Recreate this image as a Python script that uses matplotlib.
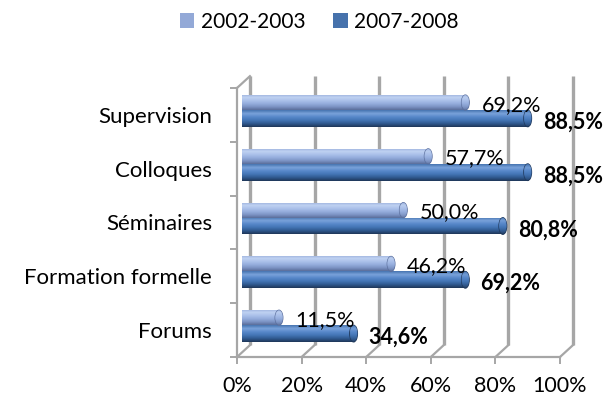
import matplotlib
matplotlib.use('Agg')
import matplotlib.pyplot as plt
import numpy as np
from matplotlib.patches import Ellipse, Patch
from matplotlib.colors import LinearSegmentedColormap

# ---------------- data ----------------
categories = ['Forums', 'Formation formelle', 'Séminaires', 'Colloques', 'Supervision']
series_names = ['2002-2003', '2007-2008']
values_2002 = [11.5, 46.2, 50.0, 57.7, 69.2]
values_2007 = [34.6, 69.2, 80.8, 88.5, 88.5]
x_ticks = [0, 20, 40, 60, 80, 100]
x_tick_labels = ['0%', '20%', '40%', '60%', '80%', '100%']

# ---------------- style ----------------
plt.rcParams['font.family'] = ['Lato', 'DejaVu Sans']
FS_CAT = 16
FS_NUM = 15.5
FS_LEG = 15
GRID = '#A6A6A6'
DEPTH_X, DEPTH_Y = 4.0, 0.22          # 3D depth offset (data units)
BAR_LEFT = 1.5
CAP_W = 2.4
light_cols = ['#98AEDB', '#C0D2F2', '#ABC1EA', '#95ADDD', '#7C93C4', '#5A6E9A']
dark_cols = ['#4674B0', '#7AA2DA', '#5888CA', '#4375B5', '#30598F', '#1E3658']
light_legend = '#93A9D7'
dark_legend = '#4672AC'
cmap_light = LinearSegmentedColormap.from_list('l', light_cols)
cmap_dark = LinearSegmentedColormap.from_list('d', dark_cols)

fig = plt.figure(figsize=(6.13, 4.04), dpi=100)
ax = fig.add_axes([237 / 613, 1 - 357 / 404, 323 / 613, 269 / 404])
ax.set_xlim(0, 100)
ax.set_ylim(-0.5, 4.5)

for s in ['top', 'right']:
    ax.spines[s].set_visible(False)
for s in ['left', 'bottom']:
    ax.spines[s].set_color(GRID)
    ax.spines[s].set_linewidth(1.6)

# back wall grid lines and floor diagonals
for t in x_ticks:
    ax.plot([t + DEPTH_X, t + DEPTH_X], [-0.5 + DEPTH_Y, 4.5 + DEPTH_Y],
            color=GRID, lw=2.4, clip_on=False, zorder=1, solid_capstyle='butt')
    ax.plot([t, t + DEPTH_X], [-0.5, -0.5 + DEPTH_Y],
            color=GRID, lw=1.6, clip_on=False, zorder=1)
ax.plot([0, DEPTH_X], [4.5, 4.5 + DEPTH_Y], color=GRID, lw=1.6, clip_on=False, zorder=1)

# ticks
ax.set_xticks(x_ticks, x_tick_labels)
ax.tick_params(axis='x', length=5, width=1.4, color=GRID, pad=9, labelsize=FS_NUM)
y = np.arange(len(categories))
ax.set_yticks(y, categories)
ax.tick_params(axis='y', which='major', length=0, pad=18, labelsize=FS_CAT)
ax.set_yticks(np.arange(-0.5, len(categories), 1), minor=True)
ax.tick_params(axis='y', which='minor', length=5, width=1.4, color=GRID)

grad = np.linspace(0, 1, 64).reshape(-1, 1)


def cylinders(yc, vals, h, cmap, edge):
    bars = ax.barh(yc, vals, height=h, left=BAR_LEFT, color=cmap(0.5),
                   edgecolor='none', zorder=3)
    for b, v, yy in zip(bars, vals, yc):
        bb = b.get_bbox()
        im = ax.imshow(grad, extent=(bb.x0, bb.x1, bb.y0, bb.y1), origin='upper',
                       aspect='auto', cmap=cmap, zorder=3.1, interpolation='bilinear')
        im.set_clip_path(b)
        e = Ellipse((BAR_LEFT + v, yy), CAP_W, h, facecolor=cmap(0.5),
                    edgecolor=edge, lw=0.8, zorder=3.2)
        ax.add_patch(e)
        im2 = ax.imshow(grad, extent=(bb.x1 - CAP_W / 2, bb.x1 + CAP_W / 2, bb.y0, bb.y1),
                        origin='upper', aspect='auto', cmap=cmap, zorder=3.3,
                        interpolation='bilinear', alpha=0.85)
        im2.set_clip_path(e)
    return bars


y_light = y + 0.23
y_dark = y - 0.065
cylinders(y_dark, values_2007, 0.31, cmap_dark, '#1E3658')
cylinders(y_light, values_2002, 0.28, cmap_light, '#5A6E9C')

ax.set_xlim(0, 100)
ax.set_ylim(-0.5, 4.5)


def fmt(v):
    return f'{v:.1f}%'.replace('.', ',')


for v, yy in zip(values_2002, y_light):
    ax.text(v + 6.5, yy - 0.04, fmt(v), ha='left', va='center', fontsize=FS_NUM,
            zorder=5, clip_on=False)
for v, yy in zip(values_2007, y_dark):
    ax.text(v + 6.2, yy - 0.07, fmt(v), ha='left', va='center', fontsize=FS_NUM,
            fontweight='bold', zorder=5, clip_on=False)

handles = [Patch(facecolor=light_legend), Patch(facecolor=dark_legend)]
fig.legend(handles, series_names, loc='center', bbox_to_anchor=(0.521, 0.946),
           ncol=2, frameon=False, fontsize=FS_LEG, handlelength=0.7, handleheight=0.7,
           columnspacing=1.35, handletextpad=0.3)

fig.savefig('out.png', dpi=100)
